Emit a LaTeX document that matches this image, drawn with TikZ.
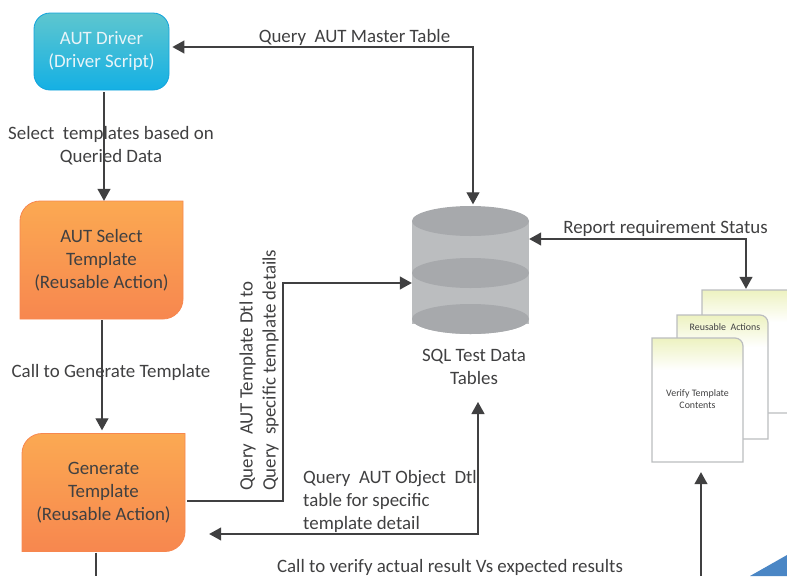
\documentclass[tikz,border=0pt]{standalone}
\usepackage{fontspec}
\setmainfont{Carlito}
\usetikzlibrary{arrows.meta}
\definecolor{inkgray}{HTML}{404041}
\definecolor{bodygray}{HTML}{BBBDBF}
\definecolor{lidgray}{HTML}{A7A9AC}
\definecolor{cardgreen}{HTML}{EDF2C0}
\definecolor{actiontop}{HTML}{FBA952}
\definecolor{actionbottom}{HTML}{F7874F}
\pgfdeclareverticalshading{cardfill}{100bp}{color(0bp)=(white); color(62bp)=(white); color(75bp)=(cardgreen); color(100bp)=(cardgreen)}
\tikzset{
    label/.style={text=inkgray, font=\fontsize{18.9}{23}\selectfont, align=center, inner sep=0},
    flow/.style={draw=inkgray, line width=1.2pt, >={Triangle[length=12pt,width=13pt]}},
    actionfill/.style={top color=actiontop, bottom color=actionbottom, draw=actionbottom, line width=0.8pt},
    cardbox/.style={draw=bodygray, line width=1.2pt, shading=cardfill},
    smalllabel/.style={text=inkgray, font=\fontsize{9.9}{12}\selectfont, align=center, inner sep=0},
}
% box with two round corners, name and centre and text
\newcommand*{\actionbox}[4]{
    \begin{scope}[shift={(#2,#3)}]
        \shadedraw[actionfill] (-81.5,59) [rounded corners=20] -- (-81.5,-59) [sharp corners] -- (81.5,-59) [rounded corners=20] -- (81.5,59) [sharp corners] -- cycle;
    \end{scope}
    \node[label, minimum width=163pt, minimum height=118pt] (#1) at (#2,#3) {#4};
}
% card with one round corner, name and centre and size
\newcommand*{\cardbox}[5]{
    \begin{scope}[shift={(#2,#3)}]
        \path[cardbox] (-#4,#5) -- (-#4,-#5) [rounded corners=8] -- (#4,-#5) [sharp corners] -- (#4,#5) -- cycle;
    \end{scope}
    \node[inner sep=0, minimum width=2*#4 pt, minimum height=2*#5 pt] (#1) at (#2,#3) {};
}
\begin{document}
\begin{tikzpicture}[x=1pt, y=-1pt]
    \clip (0,0) rectangle (787,576);
    % blue corner
    \fill[color={rgb,255:red,74;green,134;blue,197}] (750,576) -- (787,555) -- (787,576) -- cycle;
    % driver
    \node[label, minimum width=135pt, minimum height=77pt, rounded corners=16pt, draw={rgb,255:red,18;green,163;blue,220}, line width=0.8pt, top color={rgb,255:red,94;green,198;blue,207}, bottom color={rgb,255:red,20;green,176;blue,228}, text={rgb,255:red,232;green,244;blue,248}] (driver) at (101.5,51.5) {AUT Driver\\(Driver Script)};
    % actions
    \actionbox{select}{101.5}{260}{AUT Select\\Template\\(Reusable Action)}
    \actionbox{generate}{103.5}{492.5}{Generate\\Template\\(Reusable Action)}
    % data base
    \fill[bodygray] (412,221) -- (529,221) -- (529,324) -- (412,324) -- cycle;
    \fill[bodygray] (470.5,319) ellipse [x radius=58.5pt, y radius=15pt];
    \fill[lidgray] (470.5,221) ellipse [x radius=58.5pt, y radius=15pt];
    \fill[lidgray] (470.5,273) ellipse [x radius=58.5pt, y radius=15pt];
    \fill[lidgray] (470.5,319) ellipse [x radius=58.5pt, y radius=15pt];
    \node[inner sep=0, minimum width=117pt, minimum height=128pt] (sqldb) at (470.5,270.5) {};
    \node[label] (sqlcaption) at (474,366.5) {SQL Test Data\\Tables};
    % cards
    \cardbox{actionscard}{762.5}{351.5}{60.5}{61.5}
    \cardbox{reusecard}{722.5}{377}{45.5}{62}
    \cardbox{verifycard}{697.5}{400}{45.5}{62}
    \node[smalllabel] (reuselabel) at (725,327) {Reusable\ \ Actions};
    \node[smalllabel] (verifylabel) at (697.5,399) {Verify Template\\Contents};
    % bends
    \coordinate (masterbend) at (473,47);
    \coordinate (reportbend) at (746,239);
    \coordinate (templatebend) at (283,501);
    \coordinate (templatetop) at (283,283);
    \coordinate (objectbend) at (478,534);
    \coordinate (objecttop) at (478,402);
    \coordinate (generatefoot) at (96,576);
    \coordinate (verifyfoot) at (701,576);
    % connectors
    \draw[flow, <->, shorten <=3pt, shorten >=2pt] (masterbend -| driver.east) -- (masterbend) -- (masterbend |- sqldb.north);
    \draw[flow, ->] ([xshift=2.5pt, yshift=-2pt]driver.south) -- ([xshift=2.5pt]select.north);
    \draw[flow, ->, shorten >=3pt] ([xshift=0.5pt, yshift=-1pt]select.south) -- ([xshift=-1.5pt]generate.north);
    \draw[flow] ([xshift=-7.5pt, yshift=-1pt]generate.south) -- (generatefoot);
    \draw[flow, ->, shorten <=2pt] (templatebend -| generate.east) -- (templatebend) -- (templatetop) -- (templatetop -| sqldb.west);
    \draw[flow, <->, shorten <=24pt] (objectbend -| generate.east) -- (objectbend) -- (objecttop);
    \draw[flow, <->, shorten >=1pt] (reportbend -| sqldb.east) -- (reportbend) -- (reportbend |- actionscard.north);
    \draw[flow, ->, shorten >=10pt] (verifyfoot) -- (verifyfoot |- verifycard.south);
    % labels
    \node[label] (masterlabel) at (354.5,37.5) {Query\ \ AUT Master Table};
    \node[label] (selectlabel) at (111,146) {Select\ \ templates based on\\Queried Data};
    \node[label] (calllabel) at (111,372.5) {Call to Generate Template};
    \node[label, rotate=90, anchor=west, align=left] (templatelabel) at (259,491) {Query\ \ AUT Template Dtl to\\Query\ \ specific template details};
    \node[label, anchor=west, align=left] (objectlabel) at (303,501.5) {Query\ \ AUT Object\ \ Dtl\\table for specific\\template detail};
    \node[label] (reportlabel) at (665.5,228.5) {Report requirement Status};
    \node[label] (verifylabel2) at (450,567) {Call to verify actual result Vs expected results};
\end{tikzpicture}
\end{document}
